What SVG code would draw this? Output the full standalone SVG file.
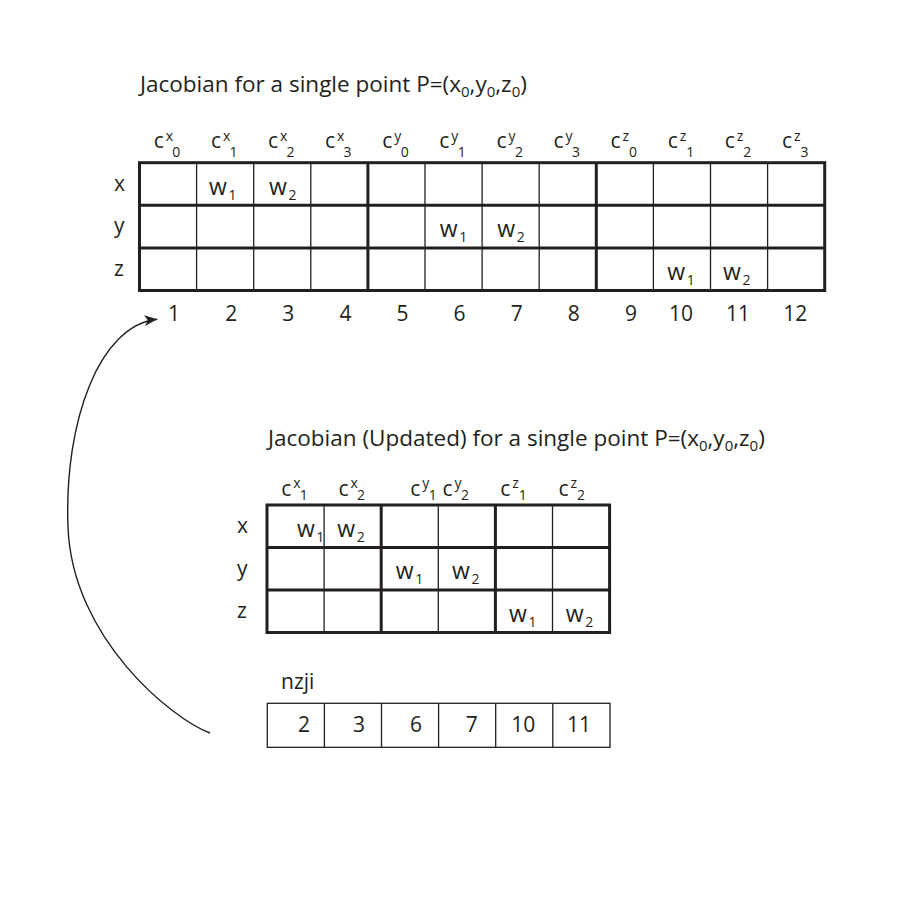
<svg xmlns="http://www.w3.org/2000/svg" width="900" height="900" viewBox="0 0 900 900">
<style>
text { font-family: "Open Sans", "Liberation Sans", sans-serif; fill: #231f20; }
.ti { font-size: 22.5px; }
.ts { font-size: 15px; }
.lb { font-size: 21px; }
.c { font-size: 21px; }
.w { font-size: 23px; }
.s { font-size: 14px; }
.num { font-size: 21px; text-anchor: middle; }
.thin { stroke: #231f20; stroke-width: 1.3; fill: none; }
.thick { stroke: #231f20; stroke-width: 3; fill: none; }
.conn { stroke: #231f20; stroke-width: 1.4; fill: none; }
</style>
<defs>
<marker id="ah" markerUnits="userSpaceOnUse" markerWidth="16" markerHeight="14" refX="13" refY="5.5" orient="auto">
<path d="M0,0 L13,5.5 L0,11 L3.5,5.5 Z" fill="#231f20"/>
</marker>
</defs>
<rect width="900" height="900" fill="#ffffff"/>

<g id="title1">
<text class="ti" x="140" y="92">Jacobian for a single point P=(x<tspan class="ts" dy="5">0</tspan><tspan dy="-5">,y</tspan><tspan class="ts" dy="5">0</tspan><tspan dy="-5">,z</tspan><tspan class="ts" dy="5">0</tspan><tspan dy="-5">)</tspan></text>
</g>

<g id="table1">
<g class="thin">
<line x1="196.6" y1="162.7" x2="196.6" y2="290.5"/>
<line x1="253.7" y1="162.7" x2="253.7" y2="290.5"/>
<line x1="310.8" y1="162.7" x2="310.8" y2="290.5"/>
<line x1="425.0" y1="162.7" x2="425.0" y2="290.5"/>
<line x1="482.1" y1="162.7" x2="482.1" y2="290.5"/>
<line x1="539.2" y1="162.7" x2="539.2" y2="290.5"/>
<line x1="653.4" y1="162.7" x2="653.4" y2="290.5"/>
<line x1="710.5" y1="162.7" x2="710.5" y2="290.5"/>
<line x1="767.6" y1="162.7" x2="767.6" y2="290.5"/>
</g>
<g class="thick">
<line x1="367.9" y1="162.7" x2="367.9" y2="290.5"/>
<line x1="596.3" y1="162.7" x2="596.3" y2="290.5"/>
<line x1="139.5" y1="205.3" x2="824.7" y2="205.3"/>
<line x1="139.5" y1="248" x2="824.7" y2="248"/>
<rect x="139.5" y="162.7" width="685.2" height="127.8"/>
</g>
<g id="t1-headers">
<text><tspan class="c" x="153.8" y="148">c</tspan><tspan class="s" x="165.8" y="140.5">x</tspan><tspan class="s" x="172.3" y="156.5">0</tspan></text>
<text><tspan class="c" x="210.9" y="148">c</tspan><tspan class="s" x="222.9" y="140.5">x</tspan><tspan class="s" x="229.4" y="156.5">1</tspan></text>
<text><tspan class="c" x="268" y="148">c</tspan><tspan class="s" x="280" y="140.5">x</tspan><tspan class="s" x="286.5" y="156.5">2</tspan></text>
<text><tspan class="c" x="325.1" y="148">c</tspan><tspan class="s" x="337.1" y="140.5">x</tspan><tspan class="s" x="343.6" y="156.5">3</tspan></text>
<text><tspan class="c" x="382.2" y="148">c</tspan><tspan class="s" x="394.2" y="140.5">y</tspan><tspan class="s" x="400.7" y="156.5">0</tspan></text>
<text><tspan class="c" x="439.3" y="148">c</tspan><tspan class="s" x="451.3" y="140.5">y</tspan><tspan class="s" x="457.8" y="156.5">1</tspan></text>
<text><tspan class="c" x="496.4" y="148">c</tspan><tspan class="s" x="508.4" y="140.5">y</tspan><tspan class="s" x="514.9" y="156.5">2</tspan></text>
<text><tspan class="c" x="553.5" y="148">c</tspan><tspan class="s" x="565.5" y="140.5">y</tspan><tspan class="s" x="572" y="156.5">3</tspan></text>
<text><tspan class="c" x="610.6" y="148">c</tspan><tspan class="s" x="622.6" y="140.5">z</tspan><tspan class="s" x="629.1" y="156.5">0</tspan></text>
<text><tspan class="c" x="667.7" y="148">c</tspan><tspan class="s" x="679.7" y="140.5">z</tspan><tspan class="s" x="686.2" y="156.5">1</tspan></text>
<text><tspan class="c" x="724.8" y="148">c</tspan><tspan class="s" x="736.8" y="140.5">z</tspan><tspan class="s" x="743.3" y="156.5">2</tspan></text>
<text><tspan class="c" x="781.9" y="148">c</tspan><tspan class="s" x="793.9" y="140.5">z</tspan><tspan class="s" x="800.4" y="156.5">3</tspan></text>
</g>
<g id="t1-rows">
<text class="lb" x="114" y="191">x</text>
<text class="lb" x="114" y="233">y</text>
<text class="lb" x="114" y="275.5">z</text>
</g>
<g id="t1-cells">
<text><tspan class="w" x="209" y="194.5">w</tspan><tspan class="s" x="228.5" y="199.5">1</tspan></text>
<text><tspan class="w" x="269" y="194.5">w</tspan><tspan class="s" x="288.5" y="199.5">2</tspan></text>
<text><tspan class="w" x="439.7" y="237">w</tspan><tspan class="s" x="459.2" y="242">1</tspan></text>
<text><tspan class="w" x="497.3" y="237">w</tspan><tspan class="s" x="516.8" y="242">2</tspan></text>
<text><tspan class="w" x="667.3" y="279.5">w</tspan><tspan class="s" x="686.8" y="284.5">1</tspan></text>
<text><tspan class="w" x="723" y="279.5">w</tspan><tspan class="s" x="742.5" y="284.5">2</tspan></text>
</g>
<g id="t1-index">
<text class="num" x="174.1" y="320.5">1</text>
<text class="num" x="231.2" y="320.5">2</text>
<text class="num" x="288.3" y="320.5">3</text>
<text class="num" x="345.4" y="320.5">4</text>
<text class="num" x="402.5" y="320.5">5</text>
<text class="num" x="459.6" y="320.5">6</text>
<text class="num" x="516.7" y="320.5">7</text>
<text class="num" x="573.8" y="320.5">8</text>
<text class="num" x="630.9" y="320.5">9</text>
<text class="num" x="681" y="320.5">10</text>
<text class="num" x="738.1" y="320.5">11</text>
<text class="num" x="795.2" y="320.5">12</text>
</g>
</g>

<g id="title2">
<text class="ti" x="268" y="446">Jacobian (Updated) for a single point P=(x<tspan class="ts" dy="5">0</tspan><tspan dy="-5">,y</tspan><tspan class="ts" dy="5">0</tspan><tspan dy="-5">,z</tspan><tspan class="ts" dy="5">0</tspan><tspan dy="-5">)</tspan></text>
</g>

<g id="table2">
<g class="thin">
<line x1="324.1" y1="505" x2="324.1" y2="632.5"/>
<line x1="438.3" y1="505" x2="438.3" y2="632.5"/>
<line x1="552.5" y1="505" x2="552.5" y2="632.5"/>
</g>
<g class="thick">
<line x1="381.2" y1="505" x2="381.2" y2="632.5"/>
<line x1="495.4" y1="505" x2="495.4" y2="632.5"/>
<line x1="267" y1="547.5" x2="609.6" y2="547.5"/>
<line x1="267" y1="590" x2="609.6" y2="590"/>
<rect x="267" y="505" width="342.6" height="127.5"/>
</g>
<g id="t2-headers">
<text><tspan class="c" x="281.2" y="496">c</tspan><tspan class="s" x="293.2" y="488">x</tspan><tspan class="s" x="299.7" y="499.5">1</tspan></text>
<text><tspan class="c" x="338.5" y="496">c</tspan><tspan class="s" x="350.5" y="488">x</tspan><tspan class="s" x="357" y="499.5">2</tspan></text>
<text><tspan class="c" x="410.2" y="496">c</tspan><tspan class="s" x="422.2" y="488">y</tspan><tspan class="s" x="428.7" y="499.5">1</tspan></text>
<text><tspan class="c" x="442.5" y="496">c</tspan><tspan class="s" x="454.5" y="488">y</tspan><tspan class="s" x="461" y="499.5">2</tspan></text>
<text><tspan class="c" x="500.2" y="496">c</tspan><tspan class="s" x="512.2" y="488">z</tspan><tspan class="s" x="518.7" y="499.5">1</tspan></text>
<text><tspan class="c" x="558.5" y="496">c</tspan><tspan class="s" x="570.5" y="488">z</tspan><tspan class="s" x="577" y="499.5">2</tspan></text>
</g>
<g id="t2-rows">
<text class="lb" x="237" y="533">x</text>
<text class="lb" x="237" y="575.5">y</text>
<text class="lb" x="237" y="618">z</text>
</g>
<g id="t2-cells">
<text><tspan class="w" x="297" y="536.5">w</tspan><tspan class="s" x="316.3" y="541.5">1</tspan></text>
<text><tspan class="w" x="337.3" y="536.5">w</tspan><tspan class="s" x="356.8" y="541.5">2</tspan></text>
<text><tspan class="w" x="395.7" y="579">w</tspan><tspan class="s" x="415.2" y="584">1</tspan></text>
<text><tspan class="w" x="452" y="579">w</tspan><tspan class="s" x="471.5" y="584">2</tspan></text>
<text><tspan class="w" x="509" y="621.5">w</tspan><tspan class="s" x="528.5" y="626.5">1</tspan></text>
<text><tspan class="w" x="565.7" y="621.5">w</tspan><tspan class="s" x="585.2" y="626.5">2</tspan></text>
</g>
</g>

<g id="nzji">
<text class="lb" x="281" y="689">nzji</text>
<g class="thin">
<rect x="267.3" y="703.3" width="342.7" height="44"/>
<line x1="324.4" y1="703.3" x2="324.4" y2="747.3"/>
<line x1="381.5" y1="703.3" x2="381.5" y2="747.3"/>
<line x1="438.6" y1="703.3" x2="438.6" y2="747.3"/>
<line x1="495.7" y1="703.3" x2="495.7" y2="747.3"/>
<line x1="552.8" y1="703.3" x2="552.8" y2="747.3"/>
</g>
<text class="num" x="304" y="732">2</text>
<text class="num" x="359" y="732">3</text>
<text class="num" x="416" y="732">6</text>
<text class="num" x="471.7" y="732">7</text>
<text class="num" x="523.3" y="732">10</text>
<text class="num" x="579" y="732">11</text>
</g>

<g id="connectors">
<path class="conn" d="M210,733 C172,719 72,638 68,527 C64,420 100,325 157.3,319.3" marker-end="url(#ah)"/>
</g>
</svg>
